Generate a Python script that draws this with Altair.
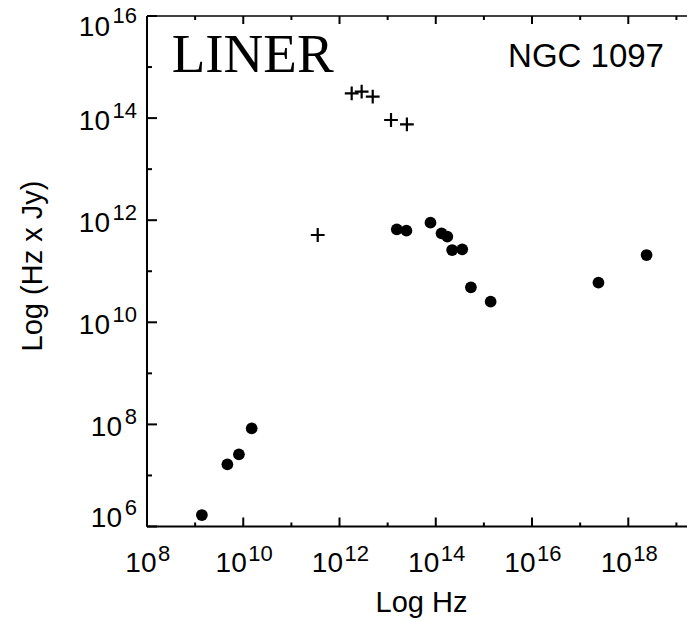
import altair as alt
import numpy as np
import pandas as pd

# ---- data (log10 values) ----
circ_log_hz = [9.14, 9.67, 9.91, 10.175, 13.19, 13.39, 13.89, 14.12, 14.24, 14.34,
               14.55, 14.73, 15.14, 17.38, 18.38]
circ_log_flux = [6.225, 7.218, 7.414, 7.924, 11.822, 11.794, 11.951, 11.743, 11.677, 11.416,
                 11.430, 10.686, 10.404, 10.776, 11.318]
cross_log_hz = [11.547, 12.253, 12.46, 12.69, 13.07, 13.40]
cross_log_flux = [11.710, 14.486, 14.517, 14.419, 13.963, 13.879]

x_major = [8, 10, 12, 14, 16, 18]
x_minor = [9, 11, 13, 15, 17, 19]
y_major = [6, 8, 10, 12, 14, 16]
y_minor = [7, 9, 11, 13, 15]

x_title = ["Log Hz"]
y_title = ["Log (Hz x Jy)"]
label_left = ["LINER"]
label_right = ["NGC 1097"]
base_text = "10"

# ---- layout ----
W = 540
H = 510.5
FONT = "Liberation Sans"
BASE_FS = 28
EXP_FS = 22
TITLE_FS = 29

xsc = alt.Scale(type="log", domain=[1e8, 10 ** 19.22], nice=False)
ysc = alt.Scale(type="log", domain=[1e6, 1e16], nice=False)

circles = pd.DataFrame({"hz": 10.0 ** np.array(circ_log_hz), "flux": 10.0 ** np.array(circ_log_flux)})
crosses = pd.DataFrame({"hz": 10.0 ** np.array(cross_log_hz), "flux": 10.0 ** np.array(cross_log_flux)})

xmaj = pd.DataFrame({"v": 10.0 ** np.array(x_major), "e": [str(e) for e in x_major], "b": base_text})
xmin = pd.DataFrame({"v": 10.0 ** np.array(x_minor)})
ymaj = pd.DataFrame({"v": 10.0 ** np.array(y_major), "e": [str(e) for e in y_major], "b": base_text})
ymin = pd.DataFrame({"v": 10.0 ** np.array(y_minor)})

one = pd.DataFrame({"a": [0]})

pts = alt.Chart(circles).mark_circle(size=138, color="black", opacity=1).encode(
    x=alt.X("hz:Q", scale=xsc, axis=None),
    y=alt.Y("flux:Q", scale=ysc, axis=None),
)

crs = alt.Chart(crosses).mark_point(
    shape="M-1,0H1M0,-1V1", size=190, filled=False, color="black", strokeWidth=2.2, opacity=1
).encode(
    x=alt.X("hz:Q", scale=xsc, axis=None),
    y=alt.Y("flux:Q", scale=ysc, axis=None),
)

# frame
left_line = alt.Chart(one).mark_rule(color="black", strokeWidth=2).encode(
    x=alt.value(0), y=alt.value(0), y2=alt.value(H))
bottom_line = alt.Chart(one).mark_rule(color="black", strokeWidth=2).encode(
    x=alt.value(0), x2=alt.value(W), y=alt.value(H))
top_line = alt.Chart(one).mark_rule(color="black", strokeWidth=1.6).encode(
    x=alt.value(0), x2=alt.value(W), y=alt.value(0))

# inward ticks
def yticks(df, length):
    return alt.Chart(df).mark_rule(color="black", strokeWidth=2).encode(
        y=alt.Y("v:Q", scale=ysc, axis=None), x=alt.value(0), x2=alt.value(length))

def xticks(df, y0, y1):
    return alt.Chart(df).mark_rule(color="black", strokeWidth=2).encode(
        x=alt.X("v:Q", scale=xsc, axis=None), y=alt.value(y0), y2=alt.value(y1))

ticks = [
    yticks(ymaj, 10), yticks(ymin, 5),
    xticks(xmaj, H, H - 9), xticks(xmin, H, H - 4),
    xticks(xmaj, 0, 8), xticks(xmin, 0, 4),
]

# tick labels: "10" with a raised exponent
def xlabels(cond, dx10, dxe):
    base = alt.Chart(xmaj).transform_filter(cond)
    a = base.mark_text(align="right", baseline="alphabetic", font=FONT, fontSize=BASE_FS,
                       dx=dx10, color="black").encode(
        x=alt.X("v:Q", scale=xsc, axis=None), y=alt.value(H + 45.5), text="b:N")
    b = base.mark_text(align="left", baseline="alphabetic", font=FONT, fontSize=EXP_FS,
                       dx=dxe, color="black").encode(
        x=alt.X("v:Q", scale=xsc, axis=None), y=alt.value(H + 34), text="e:N")
    return [a, b]

def ylabels(cond, x10, dy10, dye):
    base = alt.Chart(ymaj).transform_filter(cond)
    a = base.mark_text(align="right", baseline="alphabetic", font=FONT, fontSize=BASE_FS,
                       dy=dy10, color="black").encode(
        y=alt.Y("v:Q", scale=ysc, axis=None), x=alt.value(x10), text="b:N")
    b = base.mark_text(align="right", baseline="alphabetic", font=FONT, fontSize=EXP_FS,
                       dy=dye, color="black").encode(
        y=alt.Y("v:Q", scale=ysc, axis=None), x=alt.value(-10), text="e:N")
    return [a, b]

labels = []
labels += xlabels("length(datum.e) == 1", 9.5, 11)
labels += xlabels("length(datum.e) == 2", 3.5, 5)
labels += ylabels("datum.e == '16'", -37, 20, 7)
labels += ylabels("datum.e == '10' || datum.e == '12' || datum.e == '14'", -37, 12, 0)
labels += ylabels("datum.e == '8'", -25, 12, 0)
labels += ylabels("datum.e == '6'", -25, 0, -12)

xt = alt.Chart(pd.DataFrame({"t": x_title})).mark_text(
    align="center", baseline="alphabetic", font=FONT, fontSize=TITLE_FS, color="black"
).encode(x=alt.value(274.5), y=alt.value(H + 85), text="t:N")

yt = alt.Chart(pd.DataFrame({"t": y_title})).mark_text(
    align="center", baseline="alphabetic", font=FONT, fontSize=TITLE_FS, color="black", angle=270
).encode(x=alt.value(-105), y=alt.value(250), text="t:N")

liner = alt.Chart(pd.DataFrame({"t": label_left})).mark_text(
    align="left", baseline="alphabetic", font="Liberation Serif", fontSize=55, color="black"
).encode(x=alt.value(24.7), y=alt.value(55.7), text="t:N")

ngc = alt.Chart(pd.DataFrame({"t": label_right})).mark_text(
    align="center", baseline="alphabetic", font=FONT, fontSize=33, color="black"
).encode(x=alt.value(586 - 147), y=alt.value(50.7), text="t:N")

chart = alt.layer(
    pts, left_line, bottom_line, top_line, *ticks, *labels, crs, xt, yt, liner, ngc
).properties(
    width=W, height=H,
    autosize=alt.AutoSizeParams(type="none"),
    padding={"left": 147, "top": 16, "right": 0, "bottom": 94.5},
    background="white",
).configure_view(stroke=None)

chart.save("out.html", embed_options={"renderer": "svg", "actions": False})
